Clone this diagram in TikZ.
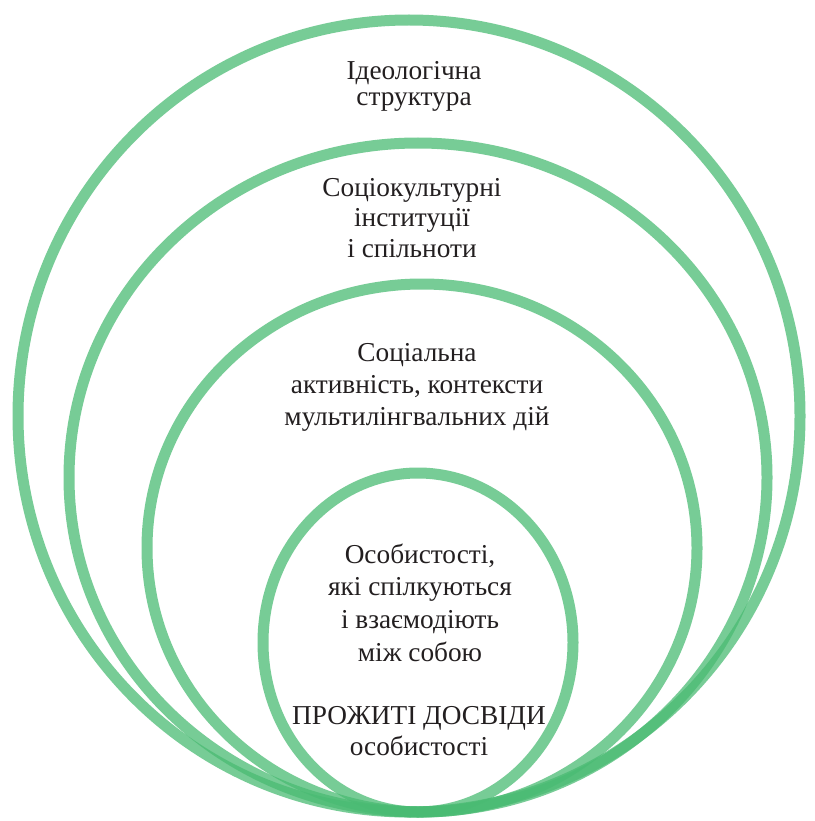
\documentclass[tikz,border=0pt]{standalone}
\usepackage{fontspec}
\setmainfont{Liberation Serif}
\definecolor{ringgreen}{RGB}{74,187,115}
\definecolor{txt}{RGB}{35,31,32}
\begin{document}
\begin{tikzpicture}[x=1pt,y=-1pt,
  ring/.style={draw=ringgreen,draw opacity=0.75,line width=11pt},
  lbl/.style={align=center,text=txt,inner sep=0pt,font=\fontsize{27.3}{30.5}\selectfont}]
\useasboundingbox[fill=white] (0,0) rectangle (814,821);
\draw[ring] (409,416) ellipse [x radius=391pt,y radius=396pt];
\draw[ring] (418,477.5) ellipse [x radius=349pt,y radius=334.5pt];
\draw[ring] (422,548) ellipse [x radius=275pt,y radius=264pt];
\draw[ring] (418,642.5) ellipse [x radius=155pt,y radius=169.5pt];
\node[lbl,font=\fontsize{27.3}{25.5}\selectfont] (t1) at (414,86.5) {Ідеологічна\\структура};
\node[lbl] (t2) at (412,218) {Соціокультурні\\інституції\\і спільноти};
\node[lbl,font=\fontsize{27.3}{32}\selectfont] (t3) at (417,387) {Соціальна\\активність, контексти\\мультилінгвальних дій};
\node[lbl,font=\fontsize{27.3}{32.7}\selectfont] (t4) at (420,602.5) {Особистості,\\які спілкуються\\і взаємодіють\\між собою};
\node[lbl] (t5) at (419,731) {ПРОЖИТІ ДОСВІДИ\\особистості};
\end{tikzpicture}
\end{document}
